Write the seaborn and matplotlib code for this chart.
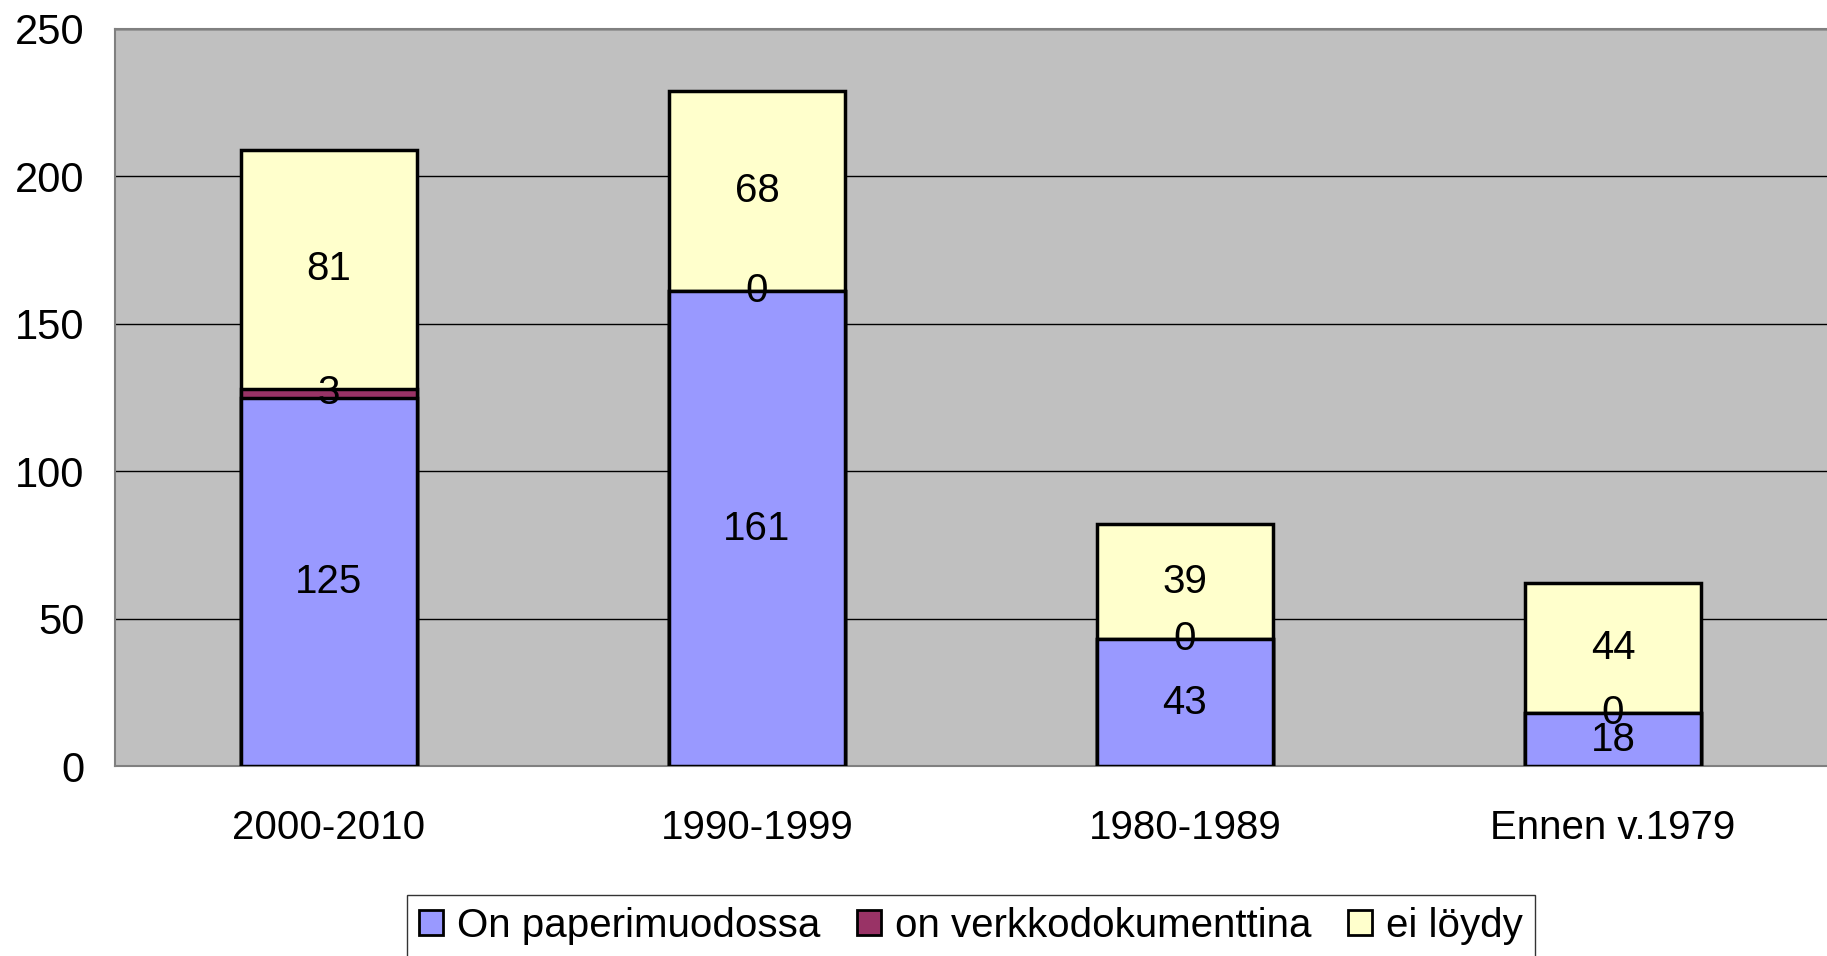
import pandas as pd
import numpy as np
import matplotlib.pyplot as plt
import seaborn as sns
from matplotlib.patches import Patch

# data
kaudet = ['2000-2010', '1990-1999', '1980-1989', 'Ennen v.1979']
paperi = [125, 161, 43, 18]
verkko = [3, 0, 0, 0]
ei_loydy = [81, 68, 39, 44]
sarjat = ['On paperimuodossa', 'on verkkodokumenttina', 'ei löydy']
varit = ['#9999FF', '#993366', '#FFFFCC']

sns.set_style('white')
plt.rcParams['font.family'] = ['Liberation Sans', 'DejaVu Sans']
plt.rcParams['text.color'] = 'black'
plt.rcParams['xtick.color'] = 'black'
plt.rcParams['ytick.color'] = 'black'

df = pd.DataFrame({'kausi': kaudet, 'paperi': paperi, 'verkko': verkko, 'ei': ei_loydy})
df['c1'] = df['paperi']
df['c2'] = df['c1'] + df['verkko']
df['c3'] = df['c2'] + df['ei']

fig = plt.figure(figsize=(18.27, 9.56), dpi=100)
ax = fig.add_axes([0.0629, 0.1987, 0.9371, 0.771])
ax.set_facecolor('#C0C0C0')

# stacked bars drawn as layered cumulative bars, tallest first
for col, c in zip(['c3', 'c2', 'c1'], varit[::-1]):
    sns.barplot(data=df, x='kausi', y=col, order=kaudet, color=c, width=0.41,
                saturation=1, edgecolor='black', linewidth=2.5, errorbar=None,
                ax=ax, zorder=3)

# value labels in the middle of each segment
for i, row in df.iterrows():
    pohjat = [0, row['c1'], row['c2']]
    arvot = [row['paperi'], row['verkko'], row['ei']]
    for b, v in zip(pohjat, arvot):
        ax.text(i, b + v / 2, str(v), ha='center', va='center', fontsize=29, zorder=5)

ax.set_xlim(-0.5, 3.5)
ax.set_ylim(0, 250)
ax.set_yticks(range(0, 251, 50))
ax.yaxis.grid(True, color='black', linewidth=1)
ax.set_axisbelow(True)
ax.set_xlabel('')
ax.set_ylabel('')

ax.set_xticks(range(4))
ax.set_xticklabels(kaudet)
ax.set_xticks([-0.5, 0.5, 1.5, 2.5], minor=True)
ax.tick_params(axis='x', which='major', length=0, pad=31, labelsize=29)
ax.tick_params(axis='x', which='minor', length=10, width=1, color='#808080', direction='out')
ax.tick_params(axis='y', length=10, width=1, color='#808080', direction='out', pad=12, labelsize=30)

for s in ['left', 'bottom', 'top']:
    ax.spines[s].set_color('#808080')
    ax.spines[s].set_linewidth(1.5)
ax.spines['right'].set_visible(False)

kahvat = [Patch(facecolor=c, edgecolor='black', linewidth=2) for c in varit]
leg = fig.legend(kahvat, sarjat, loc='upper center', bbox_to_anchor=(0.5315, 0.064),
                 ncol=3, fontsize=29, frameon=True, fancybox=False, handlelength=0.6,
                 handleheight=0.6, handletextpad=0.35, columnspacing=0.9, borderpad=0.3,
                 borderaxespad=0)
leg.get_frame().set_edgecolor('black')
leg.get_frame().set_linewidth(1)

fig.savefig('out.png', dpi=100)
